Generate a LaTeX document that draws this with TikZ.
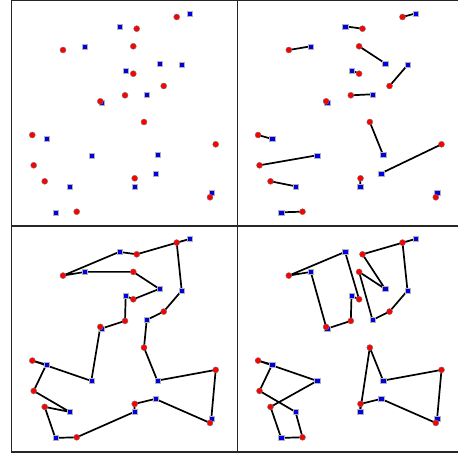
\documentclass[tikz,border=0pt]{standalone}
\pgfdeclarelayer{bg}
\pgfsetlayers{bg,main}

% the same 32 points in every panel, prefix #1
\newcommand{\placepoints}[1]{%
  \foreach \n/\x/\y in {b1/190/13.3, b2/119.3/26.3, b3/85/46.3, b4/159.3/63.3,
      b5/181.7/65, b6/125.7/70.3, b7/146.7/94.3, b8/101.3/103,
      b9/46.3/139, b10/91.3/155.3, b11/157.3/155, b12/155.3/173.3,
      b13/69.7/186.3, b14/134.3/186.3, b15/211.3/193, b16/55.3/212.3}
    \node[bluept] (#1-\n) at (\x,\y) {};
  \foreach \n/\x/\y in {r1/176.7/17, r2/136.7/28.7, r3/63/50, r4/133.3/46.3,
      r5/133.3/73.7, r6/163.7/86, r7/100.3/101.3, r8/125/95.3,
      r9/144/122, r10/32.3/135, r11/215.7/144.3, r12/33.7/165.3,
      r13/44.7/181.3, r14/134.7/178.3, r15/210/197.3, r16/76.7/211.7}
    \node[redpt] (#1-\n) at (\x,\y) {};
}

\begin{document}
\begin{tikzpicture}[x=1pt, y=-1pt,
    redpt/.style={circle, fill=red, draw=black!55, line width=0.4pt,
        minimum size=6pt, inner sep=0pt},
    bluept/.style={rectangle, fill=blue!90!black, draw=black!30, line width=0.3pt,
        minimum size=5.2pt, inner sep=0pt},
    frame/.style={draw=black!85, line width=1.3pt},
    link/.style={black, line width=1.7pt, line join=round}
  ]
  \useasboundingbox (0,0) rectangle (458,454);

  % panel frames
  \draw[frame] (11.7,0.5) rectangle (463.3,451.9);
  \draw[frame] (237.5,0.5) -- (237.5,451.9);
  \draw[frame] (11.7,226.1) -- (463.3,226.1);

  % top left: points only
  \placepoints{a}

  % top right: matching
  \begin{scope}[shift={(225.8,0)}]
    \placepoints{b}
    \begin{pgfonlayer}{bg}
      \foreach \u/\v in {r1/b1, r2/b2, r3/b3, r4/b4, r5/b6, r6/b5, r8/b7, r7/b8,
          r9/b11, r10/b9, r12/b10, r11/b12, r13/b13, r14/b14, r15/b15, r16/b16}
        \draw[link] (b-\u.center) -- (b-\v.center);
    \end{pgfonlayer}
  \end{scope}

  % bottom left: one tour
  \begin{scope}[shift={(0,225.6)}]
    \placepoints{c}
    \begin{pgfonlayer}{bg}
      \draw[link] (c-r3.center) -- (c-b2.center) -- (c-r2.center) -- (c-b1.center)
        -- (c-r1.center) -- (c-b5.center) -- (c-r6.center) -- (c-b7.center)
        -- (c-r9.center) -- (c-b11.center) -- (c-r11.center) -- (c-b15.center)
        -- (c-r15.center) -- (c-b12.center) -- (c-r14.center) -- (c-b14.center)
        -- (c-r16.center) -- (c-b16.center) -- (c-r13.center) -- (c-b13.center)
        -- (c-r12.center) -- (c-b9.center) -- (c-r10.center) -- (c-b10.center)
        -- (c-r7.center) -- (c-b8.center) -- (c-r8.center) -- (c-b6.center)
        -- (c-r5.center) -- (c-b4.center) -- (c-r4.center) -- (c-b3.center) -- cycle;
    \end{pgfonlayer}
  \end{scope}

  % bottom right: four subtours
  \begin{scope}[shift={(225.8,225.6)}]
    \placepoints{d}
    \begin{pgfonlayer}{bg}
      \draw[link] (d-r3.center) -- (d-b3.center) -- (d-r7.center) -- (d-b8.center)
        -- (d-r8.center) -- (d-b6.center) -- (d-r5.center) -- (d-b2.center) -- cycle;
      \draw[link] (d-r2.center) -- (d-b1.center) -- (d-r1.center) -- (d-b5.center)
        -- (d-r6.center) -- (d-b7.center) -- (d-r4.center) -- (d-b4.center) -- cycle;
      \draw[link] (d-r10.center) -- (d-b9.center) -- (d-r12.center) -- (d-b13.center)
        -- (d-r16.center) -- (d-b16.center) -- (d-r13.center) -- (d-b10.center) -- cycle;
      \draw[link] (d-r9.center) -- (d-b11.center) -- (d-r11.center) -- (d-b15.center)
        -- (d-r15.center) -- (d-b12.center) -- (d-r14.center) -- (d-b14.center) -- cycle;
    \end{pgfonlayer}
  \end{scope}
\end{tikzpicture}
\end{document}
